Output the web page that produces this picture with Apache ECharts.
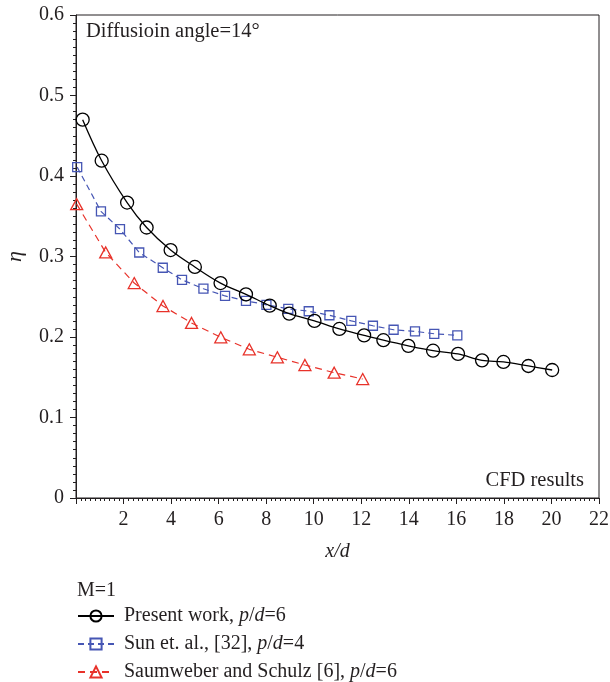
<!DOCTYPE html>
<html>
<head>
<meta charset="utf-8">
<script src="https://cdn.jsdelivr.net/npm/echarts@6/dist/echarts.min.js"></script>
<style>
  html, body { margin: 0; padding: 0; background: #fff; }
  #chart { width: 610px; height: 682px; }
</style>
</head>
<body>
<div id="chart"></div>
<script>
// Film-cooling effectiveness along the plate, diffusion angle 14 deg
const presentX = [0.28, 1.08, 2.15, 2.97, 3.98, 5.0, 6.08, 7.15, 8.15, 8.97, 10.03, 11.08, 12.12, 12.93, 13.98, 15.02, 16.07, 17.08, 17.98, 19.03, 20.03];
const presentEta = [0.470, 0.419, 0.367, 0.336, 0.308, 0.287, 0.267, 0.253, 0.239, 0.229, 0.220, 0.210, 0.202, 0.196, 0.189, 0.183, 0.179, 0.171, 0.169, 0.164, 0.159];

const sunX = [0.05, 1.05, 1.85, 2.66, 3.65, 4.46, 5.36, 6.27, 7.15, 8.01, 8.93, 9.79, 10.66, 11.58, 12.49, 13.36, 14.26, 15.07, 16.04];
const sunEta = [0.411, 0.356, 0.334, 0.305, 0.286, 0.271, 0.260, 0.251, 0.245, 0.240, 0.235, 0.232, 0.227, 0.220, 0.214, 0.209, 0.207, 0.204, 0.202];

const saumX = [0.03, 1.25, 2.45, 3.66, 4.86, 6.09, 7.29, 8.47, 9.63, 10.86, 12.06];
const saumEta = [0.365, 0.305, 0.267, 0.2385, 0.2174, 0.1996, 0.1847, 0.1748, 0.1652, 0.1557, 0.1478];

const seriesNames = ['Present work', 'Sun et. al., [32]', 'Saumweber and Schulz [6]'];
const seriesPitch = ['6', '4', '6'];
const xTicks = [2, 4, 6, 8, 10, 12, 14, 16, 18, 20, 22];

const FONT = 'Liberation Serif';
const INK = '#231f20';

function pairs(xs, ys) { return xs.map((x, i) => [x, ys[i]]); }

const chart = echarts.init(document.getElementById('chart'), null, { renderer: 'canvas' });

const richText = {
  n: { fontFamily: FONT, fontSize: 20, color: INK },
  i: { fontFamily: FONT, fontSize: 20, color: INK, fontStyle: 'italic' }
};

chart.setOption({
  backgroundColor: '#fff',
  animation: false,
  textStyle: { fontFamily: FONT, color: INK },
  grid: {
    left: 76, top: 15, right: 11, bottom: 184,
    containLabel: false, outerBoundsMode: 'none',
    show: true, borderColor: INK, borderWidth: 1, backgroundColor: 'transparent'
  },
  xAxis: {
    type: 'value', min: 0, max: 22, interval: 2,
    name: 'x/d',
    nameLocation: 'middle', nameGap: 44,
    nameTextStyle: { fontFamily: FONT, fontSize: 20, fontStyle: 'italic', color: INK },
    axisLine: { show: true, onZero: false, lineStyle: { color: INK, width: 1 } },
    axisTick: { show: true, inside: false, length: 6, lineStyle: { color: INK } },
    minorTick: { show: true, splitNumber: 10, length: 3, lineStyle: { color: INK } },
    splitLine: { show: false },
    axisLabel: {
      fontFamily: FONT, fontSize: 20, color: INK, margin: 12,
      formatter: v => (xTicks.indexOf(v) >= 0 ? String(v) : '')
    }
  },
  yAxis: {
    type: 'value', min: 0, max: 0.6, interval: 0.1,
    name: 'η',
    nameLocation: 'middle', nameGap: 50, nameRotate: 90,
    nameTextStyle: { fontFamily: FONT, fontSize: 22, fontStyle: 'italic', color: INK },
    axisLine: { show: true, onZero: false, lineStyle: { color: INK, width: 1 } },
    axisTick: { show: true, inside: false, length: 6, lineStyle: { color: INK } },
    minorTick: { show: true, splitNumber: 10, length: 3, lineStyle: { color: INK } },
    splitLine: { show: false },
    axisLabel: {
      fontFamily: FONT, fontSize: 20, color: INK, margin: 12,
      formatter: v => (v === 0 ? '0' : v.toFixed(1))
    }
  },
  legend: {
    orient: 'horizontal', left: 72, top: 601, width: 250,
    itemWidth: 36, itemHeight: 14, itemGap: 8,
    data: seriesNames,
    textStyle: { fontFamily: FONT, fontSize: 20, color: INK, padding: [0, 0, 0, 5], rich: richText },
    formatter: name => {
      const k = seriesNames.indexOf(name);
      return '{n|' + name + ', }{i|p}{n|/}{i|d}{n|=' + seriesPitch[k] + '}';
    }
  },
  graphic: [
    { type: 'text', left: 86, top: 21,
      style: { text: 'Diffusioin angle=14°', font: '20.5px "Liberation Serif"', fill: INK } },
    { type: 'text', right: 26, top: 470,
      style: { text: 'CFD results', font: '20.5px "Liberation Serif"', fill: INK } },
    { type: 'text', left: 77, top: 581,
      style: { text: 'M=1', font: '20px "Liberation Serif"', fill: INK } }
  ],
  series: [
    {
      name: seriesNames[0], type: 'line', data: pairs(presentX, presentEta),
      smooth: 0.35, clip: false,
      symbol: 'circle', symbolSize: 13,
      lineStyle: { color: '#000', width: 1.3, type: 'solid' },
      itemStyle: { color: 'rgba(255,255,255,0)', borderColor: '#000', borderWidth: 1.3 },
      z: 3
    },
    {
      name: seriesNames[1], type: 'line', data: pairs(sunX, sunEta),
      smooth: false, clip: false,
      symbol: 'rect', symbolSize: 9,
      lineStyle: { color: '#4656b4', width: 1.2, type: [6, 4] },
      itemStyle: { color: 'rgba(255,255,255,0)', borderColor: '#4656b4', borderWidth: 1.3 },
      z: 2
    },
    {
      name: seriesNames[2], type: 'line', data: pairs(saumX, saumEta),
      smooth: false, clip: false,
      symbol: 'triangle', symbolSize: [12, 11],
      lineStyle: { color: '#e8322a', width: 1.2, type: [7, 5] },
      itemStyle: { color: 'rgba(255,255,255,0)', borderColor: '#e8322a', borderWidth: 1.3 },
      z: 2
    }
  ]
});
</script>
</body>
</html>
